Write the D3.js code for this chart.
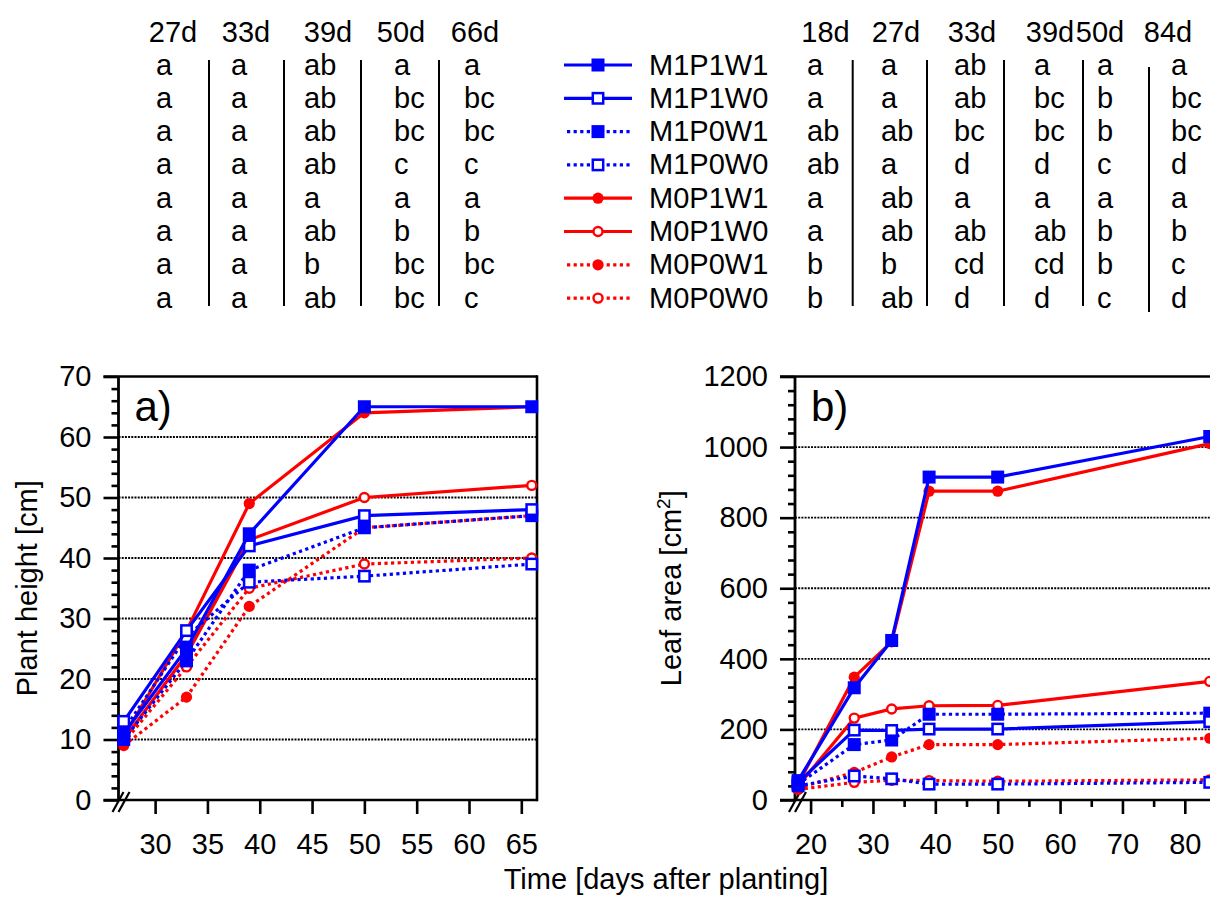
<!DOCTYPE html>
<html><head><meta charset="utf-8">
<script src="https://cdn.jsdelivr.net/npm/d3@7"></script>
<style>
body{margin:0;background:#fff}
text{font-family:"Liberation Sans",Arial,Helvetica,sans-serif;fill:#000}
</style>
</head><body>
<svg id="chart" width="1210" height="917"></svg>
<script>
// ---------------- DATA ----------------
const seriesNames = ["M1P1W1","M1P1W0","M1P0W1","M1P0W0","M0P1W1","M0P1W0","M0P0W1","M0P0W0"];

// Panel a: plant height [cm]
const daysA = [27, 33, 39, 50, 66];
const hM1P1W1 = [11, 25, 44, 65, 65];
const hM1P1W0 = [13, 28, 42, 47, 48];
const hM1P0W1 = [10, 23, 38, 45, 47];
const hM1P0W0 = [11.5, 27, 36, 37, 39];
const hM0P1W1 = [10.5, 28, 49, 64, 65];
const hM0P1W0 = [10, 24, 43, 50, 52];
const hM0P0W1 = [9, 17, 32, 45, 47];
const hM0P0W0 = [9.5, 22, 35, 39, 40];

// Panel b: leaf area [cm2]
const daysB = [18, 27, 33, 39, 50, 84];
const laM1P1W1 = [55, 318, 452, 915, 915, 1030];
const laM1P1W0 = [50, 198, 197, 201, 201, 222];
const laM1P0W1 = [45, 157, 170, 243, 243, 246];
const laM1P0W0 = [40, 68, 60, 45, 45, 50];
const laM0P1W1 = [45, 348, 448, 875, 875, 1010];
const laM0P1W0 = [40, 232, 258, 267, 268, 336];
const laM0P0W1 = [35, 78, 122, 157, 157, 175];
const laM0P0W0 = [30, 50, 56, 55, 53, 57];

// Ticks
const ticksAx = [30, 35, 40, 45, 50, 55, 60, 65];
const ticksAy = [0, 10, 20, 30, 40, 50, 60, 70];
const ticksBx = [20, 30, 40, 50, 60, 70, 80];
const ticksBxMinor = [25, 35, 45, 55, 65, 75];
const ticksBy = [0, 200, 400, 600, 800, 1000, 1200];

// Letter tables (rows follow seriesNames)
const headA = ["27d", "33d", "39d", "50d", "66d"];
const lettersA = [
  ["a","a","ab","a","a"],
  ["a","a","ab","bc","bc"],
  ["a","a","ab","bc","bc"],
  ["a","a","ab","c","c"],
  ["a","a","a","a","a"],
  ["a","a","ab","b","b"],
  ["a","a","b","bc","bc"],
  ["a","a","ab","bc","c"]
];
const headB = ["18d", "27d", "33d", "39d", "50d", "84d"];
const lettersB = [
  ["a","a","ab","a","a","a"],
  ["a","a","ab","bc","b","bc"],
  ["ab","ab","bc","bc","b","bc"],
  ["ab","a","d","d","c","d"],
  ["a","ab","a","a","a","a"],
  ["a","ab","ab","ab","b","b"],
  ["b","b","cd","cd","b","c"],
  ["b","ab","d","d","c","d"]
];

const heightData = [hM1P1W1, hM1P1W0, hM1P0W1, hM1P0W0, hM0P1W1, hM0P1W0, hM0P0W1, hM0P0W0];
const leafData = [laM1P1W1, laM1P1W0, laM1P0W1, laM1P0W0, laM0P1W1, laM0P1W0, laM0P0W1, laM0P0W0];

// ---------------- STYLE ----------------
const FONT = 29;
const LW = 3.2;
const DASH = "3.2,3.4";
const BLUE = "#0000ff", RED = "#ff0000";
function styleOf(name){
  return {
    color: name.startsWith("M1") ? BLUE : RED,
    square: name.startsWith("M1"),
    dotted: name.includes("P0"),
    filled: name.endsWith("W1")
  };
}

const svg = d3.select("#chart");

function drawMarker(g, st, cx, cy){
  if (st.square){
    if (st.filled){
      g.append("rect").attr("x", cx-6.5).attr("y", cy-6.5).attr("width", 13).attr("height", 13)
        .attr("fill", st.color);
    } else {
      g.append("rect").attr("x", cx-5.2).attr("y", cy-5.2).attr("width", 10.4).attr("height", 10.4)
        .attr("fill", "#fff").attr("stroke", st.color).attr("stroke-width", 2.5);
    }
  } else {
    if (st.filled){
      g.append("circle").attr("cx", cx).attr("cy", cy).attr("r", 5.6).attr("fill", st.color);
    } else {
      g.append("circle").attr("cx", cx).attr("cy", cy).attr("r", 4.5)
        .attr("fill", "#fff").attr("stroke", st.color).attr("stroke-width", 2.4);
    }
  }
}

function drawPanel(cfg){
  const x = d3.scaleLinear().domain(cfg.xDomain).range(cfg.xRange);
  const y = d3.scaleLinear().domain(cfg.yDomain).range(cfg.yRange);
  const g = svg.append("g");
  const x0 = cfg.xRange[0], x1 = cfg.xRange[1];
  const yTop = y(cfg.yDomain[1]), yBot = y(cfg.yDomain[0]);

  // gridlines
  g.append("g").selectAll("line")
    .data(cfg.yTicks.filter(v => v > cfg.yDomain[0] && v < cfg.yDomain[1]))
    .join("line")
    .attr("x1", x0).attr("x2", x1)
    .attr("y1", d => y(d)).attr("y2", d => y(d))
    .attr("stroke", "#000").attr("stroke-width", 1.8).attr("stroke-dasharray", "2,1.2");

  // minor y ticks
  const yMinor = d3.range(cfg.yDomain[0], cfg.yDomain[1] + 1e-9, cfg.yMinorStep)
    .filter(v => !cfg.yTicks.some(t => Math.abs(t - v) < 1e-9));
  const ay2 = g.append("g").attr("transform", `translate(${x0},0)`)
    .call(d3.axisLeft(y).tickValues(yMinor).tickSize(7).tickFormat(""));
  ay2.select(".domain").remove();
  ay2.selectAll("line").attr("stroke-width", 2.6);

  // major y ticks
  const ay = g.append("g").attr("transform", `translate(${x0},0)`)
    .call(d3.axisLeft(y).tickValues(cfg.yTicks).tickSize(15).tickPadding(12).tickFormat(d3.format("d")));
  ay.select(".domain").remove();
  ay.selectAll("line").attr("stroke-width", 2.6);
  ay.selectAll("text").style("font-size", FONT + "px").style("font-family", '"Liberation Sans",Arial,sans-serif');

  // x ticks
  if (cfg.xMinor){
    const ax2 = g.append("g").attr("transform", `translate(0,${yBot})`)
      .call(d3.axisBottom(x).tickValues(cfg.xMinor).tickSize(7).tickFormat(""));
    ax2.select(".domain").remove();
    ax2.selectAll("line").attr("stroke-width", 2.6);
  }
  const ax = g.append("g").attr("transform", `translate(0,${yBot})`)
    .call(d3.axisBottom(x).tickValues(cfg.xTicks).tickSize(14).tickPadding(19).tickFormat(d3.format("d")));
  ax.select(".domain").remove();
  ax.selectAll("line").attr("stroke-width", 2.6);
  ax.selectAll("text").style("font-size", FONT + "px").style("font-family", '"Liberation Sans",Arial,sans-serif');

  // frame
  g.append("line").attr("x1", x0).attr("x2", x0).attr("y1", yTop).attr("y2", yBot).attr("stroke", "#000").attr("stroke-width", 2.8);
  g.append("line").attr("x1", x0 - 15).attr("x2", x1).attr("y1", yBot).attr("y2", yBot).attr("stroke", "#000").attr("stroke-width", 2.6);
  g.append("line").attr("x1", x0 - 15).attr("x2", x1).attr("y1", yTop).attr("y2", yTop).attr("stroke", "#000").attr("stroke-width", 2.6);
  if (cfg.rightBorder){
    g.append("line").attr("x1", x1).attr("x2", x1).attr("y1", yTop - 1.3).attr("y2", yBot + 1.3).attr("stroke", "#000").attr("stroke-width", 2.6);
  }

  // axis break marks
  const bk = g.append("g").attr("stroke", "#000").attr("stroke-width", 2.2);
  bk.append("line").attr("x1", x0 - 6).attr("y1", yBot + 12).attr("x2", x0 + 5).attr("y2", yBot - 8);
  bk.append("line").attr("x1", x0 + 0).attr("y1", yBot + 12).attr("x2", x0 + 11).attr("y2", yBot - 8);

  // series, drawn in reverse legend order so blue ends on top
  const order = d3.range(seriesNames.length).reverse();
  const lineGen = d3.line().x(d => x(d[0])).y(d => y(d[1]));
  order.forEach(i => {
    const st = styleOf(seriesNames[i]);
    const pts = cfg.days.map((d, j) => [d, cfg.data[i][j]]);
    const sg = g.append("g");
    sg.append("path").attr("d", lineGen(pts)).attr("fill", "none")
      .attr("stroke", st.color).attr("stroke-width", LW)
      .attr("stroke-dasharray", st.dotted ? DASH : null);
    pts.forEach(p => drawMarker(sg, st, x(p[0]), y(p[1])));
  });

  // panel label
  g.append("text").attr("x", x0 + 16).attr("y", yTop + 44).text(cfg.label)
    .style("font-size", "42px");

  // y title
  const t = g.append("text")
    .attr("transform", `translate(${cfg.titleX},${(yTop + yBot) / 2}) rotate(-90)`)
    .attr("text-anchor", "middle").style("font-size", FONT + "px");
  cfg.title(t);
}

drawPanel({
  xDomain: [26.5, 66.5], xRange: [118.5, 537],
  yDomain: [0, 70], yRange: [800, 376.5],
  xTicks: ticksAx, yTicks: ticksAy, yMinorStep: 2,
  days: daysA, data: heightData, rightBorder: true,
  label: "a)", titleX: 37,
  title: t => t.text("Plant height [cm]")
});

drawPanel({
  xDomain: [17.5, 85], xRange: [795, 1216],
  yDomain: [0, 1200], yRange: [800, 376.5],
  xTicks: ticksBx, xMinor: ticksBxMinor, yTicks: ticksBy, yMinorStep: 40,
  days: daysB, data: leafData, rightBorder: false,
  label: "b)", titleX: 681,
  title: t => {
    t.append("tspan").text("Leaf area [cm");
    t.append("tspan").text("2").attr("dy", -11).style("font-size", "19px");
    t.append("tspan").text("]").attr("dy", 11);
  }
});

// x title
svg.append("text").attr("x", 666).attr("y", 889).attr("text-anchor", "middle")
  .style("font-size", FONT + "px").text("Time [days after planting]");

// ---------------- LETTER TABLES ----------------
const rowY = i => 74.5 + i * 33.3;
function drawTable(head, letters, layout){
  const g = svg.append("g").style("font-size", FONT + "px");
  head.forEach((h, j) => {
    g.append("text").attr("x", layout.headX[j]).attr("y", 42).attr("text-anchor", "middle").text(h);
  });
  letters.forEach((row, i) => {
    row.forEach((v, j) => {
      g.append("text").attr("x", layout.colX[j]).attr("y", rowY(i)).text(v);
    });
  });
  layout.sep.forEach(s => {
    g.append("line").attr("x1", s[0]).attr("x2", s[0]).attr("y1", s[1]).attr("y2", s[2])
      .attr("stroke", "#000").attr("stroke-width", 2);
  });
}
drawTable(headA, lettersA, {
  headX: [173, 246, 328, 401, 475],
  colX: [156, 231, 304, 394, 464],
  sep: [[209, 60, 306], [284, 60, 306], [361, 60, 306], [439, 60, 306]]
});
drawTable(headB, lettersB, {
  headX: [825.5, 896, 972, 1050, 1100, 1168],
  colX: [807, 881, 954, 1034, 1097, 1171],
  sep: [[852.7, 60, 306], [927, 60, 306], [1004, 60, 306], [1083, 60, 306], [1149, 67, 312]]
});

// ---------------- LEGEND ----------------
const lg = svg.append("g");
seriesNames.forEach((name, i) => {
  const st = styleOf(name);
  const cy = rowY(i) - 9.5;
  lg.append("line").attr("x1", st.dotted ? 567 : 564).attr("x2", 632).attr("y1", cy).attr("y2", cy)
    .attr("stroke", st.color).attr("stroke-width", LW)
    .attr("stroke-dasharray", st.dotted ? DASH : null);
  drawMarker(lg, st, 598, cy);
  lg.append("text").attr("x", 649).attr("y", rowY(i)).style("font-size", FONT + "px").text(name);
});
</script>
</body></html>
